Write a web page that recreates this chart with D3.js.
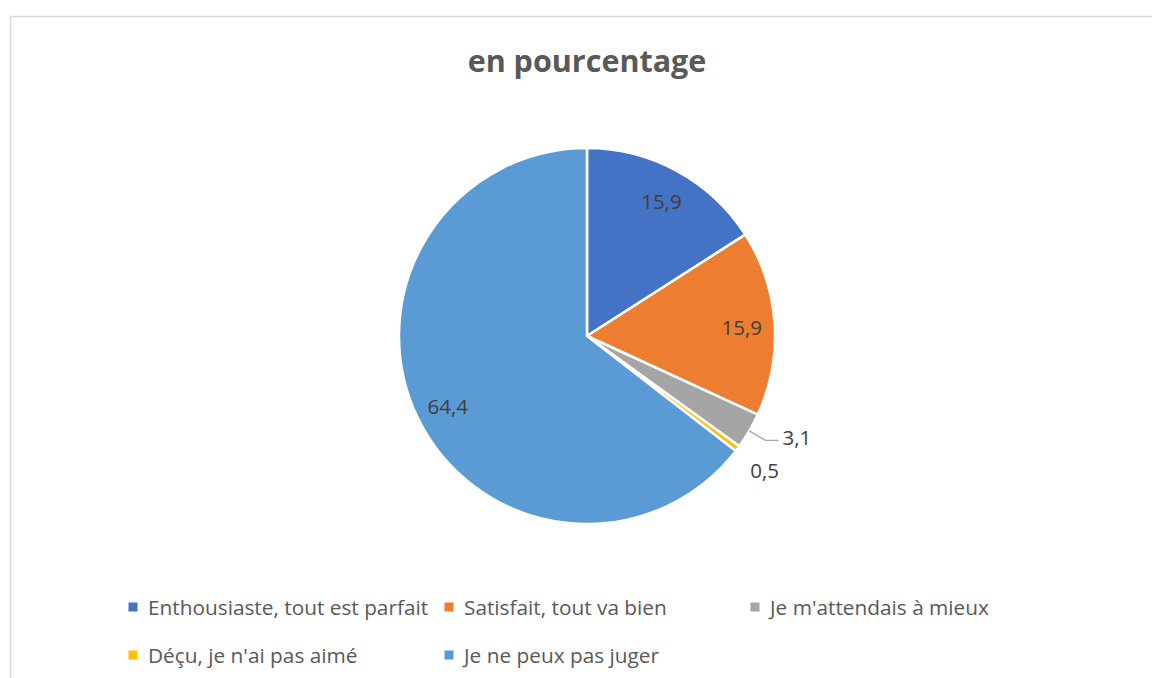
<!DOCTYPE html>
<html>
<head>
<meta charset="utf-8">
<title>en pourcentage</title>
<style>
  body { margin: 0; background: #fff; }
  svg { display: block; font-family: "Open Sans", "Liberation Sans", sans-serif; }
</style>
</head>
<body>
<div id="chart"></div>
<script src="https://cdn.jsdelivr.net/npm/d3@7/dist/d3.min.js"></script>
<script>
const categories = [
  "Enthousiaste, tout est parfait",
  "Satisfait, tout va bien",
  "Je m'attendais à mieux",
  "Déçu, je n'ai pas aimé",
  "Je ne peux pas juger"
];
const values = [15.9, 15.9, 3.1, 0.5, 64.4];
const valueLabels = ["15,9", "15,9", "3,1", "0,5", "64,4"];
const colors = ["#4472C4", "#ED7D31", "#A5A5A5", "#FFC000", "#5B9BD5"];

const W = 1152, H = 678;
const cx = 587, cy = 336, R = 188;

const svg = d3.select('#chart').append('svg')
  .attr('width', W).attr('height', H);

// chart area border
svg.append('rect')
  .attr('x', 10.5).attr('y', 16.5)
  .attr('width', W).attr('height', H)
  .attr('fill', 'none').attr('stroke', '#d9d9d9').attr('stroke-width', 1.5);

svg.append('text')
  .attr('x', cx).attr('y', 64)
  .attr('text-anchor', 'middle').attr('dominant-baseline', 'middle')
  .attr('font-size', 30.5).attr('font-weight', 'bold').attr('fill', '#595959')
  .text('en pourcentage');

const data = categories.map((c, i) => ({ name: c, value: values[i], label: valueLabels[i], color: colors[i] }));

const pie = d3.pie().sort(null).value(d => d.value);
const arcs = pie(data);
const arc = d3.arc().innerRadius(0).outerRadius(R);

const g = svg.append('g').attr('transform', `translate(${cx},${cy})`);

g.selectAll('path').data(arcs).enter().append('path')
  .attr('d', arc)
  .attr('fill', d => d.data.color)
  .attr('stroke', '#fff').attr('stroke-width', 2.5).attr('stroke-linejoin', 'round');

const mid = d => (d.startAngle + d.endAngle) / 2;
const pt = (a, r) => [r * Math.sin(a), -r * Math.cos(a)];
const share = d => d.value / d3.sum(values);

// labels: inside for big slices, outside for small ones
arcs.forEach((d, i) => {
  const a = mid(d);
  const s = share(d.data);
  let x, y, anchor = 'middle';
  if (s > 0.05) {
    [x, y] = pt(a, 0.825 * R);
  } else if (s > 0.02) {
    const p0 = pt(a, R);
    const p1 = pt(a, 1.1 * R);
    const p2 = [p1[0] + 13, p1[1]];
    g.append('polyline')
      .attr('points', [p0, p1, p2].map(p => p.join(',')).join(' '))
      .attr('fill', 'none').attr('stroke', '#a6a6a6').attr('stroke-width', 1.3);
    x = p2[0] + 4; y = p1[1] - 5; anchor = 'start';
  } else {
    [x, y] = pt(a, 1.18 * R);
  }
  g.append('text')
    .attr('x', x).attr('y', y + 4)
    .attr('text-anchor', anchor).attr('dominant-baseline', 'middle')
    .attr('font-size', 20.5).attr('fill', '#404040')
    .text(d.data.label);
});

// legend
const legendPos = [[133, 607], [449, 607], [755, 607], [133, 655], [449, 655]];
const leg = svg.append('g');
data.forEach((d, i) => {
  const [lx, ly] = legendPos[i];
  leg.append('rect')
    .attr('x', lx - 4.5).attr('y', ly - 4.5).attr('width', 9).attr('height', 9)
    .attr('fill', d.color);
  leg.append('text')
    .attr('x', lx + 15).attr('y', ly + 2)
    .attr('dominant-baseline', 'middle')
    .attr('font-size', 20.8).attr('fill', '#595959')
    .text(d.name);
});
</script>
</body>
</html>
